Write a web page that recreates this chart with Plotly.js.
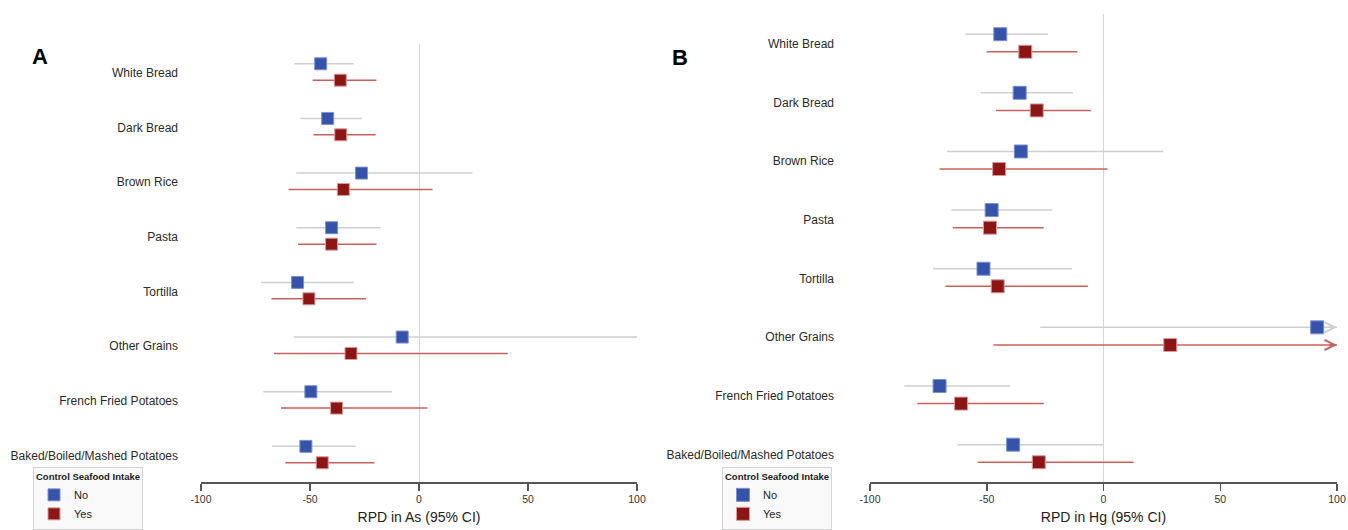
<!DOCTYPE html>
<html>
<head>
<meta charset="utf-8">
<script src="https://cdn.plot.ly/plotly-3.0.1.min.js"></script>
<style>
  html, body { margin: 0; padding: 0; background: #fff; }
  #chart { width: 1348px; height: 530px; }
</style>
</head>
<body>
<div id="chart"></div>
<script>
// ---- Data ----
const categories = ['White Bread', 'Dark Bread', 'Brown Rice', 'Pasta', 'Tortilla',
  'Other Grains', 'French Fried Potatoes', 'Baked/Boiled/Mashed Potatoes'];
const groups = ['No', 'Yes'];
const xTicks = [-100, -50, 0, 50, 100];

// Panel A: RPD in As
const asNoEst  = [-45.1, -41.9, -26.4, -40.1, -55.7, -7.7, -49.6, -51.9];
const asNoLo   = [-57.1, -54.4, -56.3, -56.3, -72.5, -57.5, -71.4, -67.5];
const asNoHi   = [-30.1, -26.2, 24.5, -17.6, -29.9, 100, -12.3, -29.1];
const asYesEst = [-36.1, -35.9, -34.7, -40.1, -50.5, -31.2, -37.8, -44.4];
const asYesLo  = [-48.8, -48.4, -59.8, -55.5, -67.7, -66.5, -63.3, -61.3];
const asYesHi  = [-19.5, -19.9, 6.2, -19.5, -24.3, 40.7, 3.9, -20.4];

// Panel B: RPD in Hg
const hgNoEst  = [-44.2, -35.9, -35.4, -47.9, -51.4, 91.5, -70.2, -38.7];
const hgNoLo   = [-59.1, -52.6, -67.0, -65.1, -73.0, -27.1, -85.3, -62.5];
const hgNoHi   = [-23.8, -13.1, 25.6, -21.9, -13.5, 100, -40.0, 0.0];
const hgYesEst = [-33.5, -28.6, -44.7, -48.6, -45.3, 28.6, -61.0, -27.7];
const hgYesLo  = [-50.0, -46.0, -70.2, -64.5, -67.7, -47.1, -79.7, -53.9];
const hgYesHi  = [-11.2, -5.4, 1.7, -25.6, -6.7, 100, -25.6, 12.9];

// ---- Styling / layout constants ----
const FONT = '"Liberation Sans", Arial, sans-serif';
const W = 1348, H = 530;
const blue = '#3553a8', red = '#8c1515';
const grayLine = '#cfcfcf', redLine = '#c8605c';
const offNo = -0.165, offYes = 0.135;
const XMAX = 100;

const traces = [];
const annotations = [];

function addPanel(ax, legendId, est, lo, hi, mSize, arrows) {
  const xa = ax === 1 ? 'x' : 'x' + ax;
  const ya = ax === 1 ? 'y' : 'y' + ax;
  const sets = [
    {name: groups[0], e: est[0], l: lo[0], h: hi[0], off: offNo, mc: blue, lc: grayLine, border: '#7d91cf'},
    {name: groups[1], e: est[1], l: lo[1], h: hi[1], off: offYes, mc: red, lc: redLine, border: '#d99a9a'}
  ];
  sets.forEach(s => {
    traces.push({
      type: 'scatter', mode: 'markers', name: s.name,
      x: s.e, y: categories.map((c, i) => i + s.off),
      xaxis: xa, yaxis: ya, legend: legendId,
      marker: {symbol: 'square', size: mSize, color: s.mc, line: {color: s.border, width: 1}},
      error_x: {
        type: 'data', symmetric: false,
        array: s.e.map((v, i) => s.h[i] - v),
        arrayminus: s.e.map((v, i) => v - s.l[i]),
        width: 0, thickness: 1.5, color: s.lc
      },
      hoverinfo: 'x+name'
    });
    if (arrows) {
      s.h.forEach((v, i) => {
        if (v >= XMAX) {
          annotations.push({
            xref: xa, yref: ya, axref: xa, ayref: ya,
            x: XMAX, y: i + s.off, ax: XMAX - 4, ay: i + s.off,
            text: '', showarrow: true, arrowhead: 5, arrowsize: 1.35,
            arrowwidth: 1.5, arrowcolor: s.lc, standoff: 0, startstandoff: 0
          });
        }
      });
    }
  });
}

addPanel(1, 'legend', [asNoEst, asYesEst], [asNoLo, asYesLo], [asNoHi, asYesHi], 12, false);
addPanel(2, 'legend2', [hgNoEst, hgYesEst], [hgNoLo, hgYesLo], [hgNoHi, hgYesHi], 13, true);

function xAxis(domain, title) {
  return {
    domain: domain, range: [-100, 100], tickvals: xTicks, ticktext: xTicks.map(String),
    showgrid: false, zeroline: true, zerolinecolor: '#d6d6d6', zerolinewidth: 1,
    showline: true, linecolor: '#555', linewidth: 1.5,
    ticks: 'outside', ticklen: 7, tickwidth: 1.5, tickcolor: '#555',
    tickfont: {family: FONT, size: 10.5, color: '#333'},
    title: {text: title, font: {family: FONT, size: 14, color: '#222'}, standoff: 8},
    automargin: false, fixedrange: true
  };
}
function yAxis(domain, range, anchor, standoff) {
  return {
    domain: domain, range: range, anchor: anchor,
    tickvals: categories.map((c, i) => i), ticktext: categories,
    showgrid: false, zeroline: false, showline: false, ticks: '',
    ticklabelstandoff: standoff,
    tickfont: {family: FONT, size: 12, color: '#2a2a2a'},
    automargin: false, fixedrange: true
  };
}

annotations.push(
  {xref: 'paper', yref: 'paper', x: 40 / W, y: 1 - 57 / H, xanchor: 'center', yanchor: 'middle',
   text: '<b>A</b>', showarrow: false,
   font: {family: FONT, size: 22, color: '#000'}},
  {xref: 'paper', yref: 'paper', x: 680 / W, y: 1 - 58 / H, xanchor: 'center', yanchor: 'middle',
   text: '<b>B</b>', showarrow: false,
   font: {family: FONT, size: 22, color: '#000'}}
);

function legendBox(xpx) {
  return {
    x: xpx / W, y: 1 - 469 / H, xanchor: 'left', yanchor: 'top',
    bgcolor: '#f8f9f8', bordercolor: '#d4d4d4', borderwidth: 1,
    title: {text: '<b>Control Seafood Intake</b>', font: {family: FONT, size: 9.5, color: '#222'}},
    font: {family: FONT, size: 11, color: '#222'},
    tracegroupgap: 0, itemwidth: 30
  };
}

const layout = {
  width: W, height: H,
  margin: {l: 0, r: 0, t: 0, b: 0},
  paper_bgcolor: '#fff', plot_bgcolor: '#fff',
  font: {family: FONT},
  xaxis: xAxis([201 / W, 637 / W], 'RPD in As (95% CI)'),
  yaxis: yAxis([1 - 484 / H, 1 - 44 / H], [7.49, -0.53], 'x', 22),
  xaxis2: xAxis([870 / W, 1337 / W], 'RPD in Hg (95% CI)'),
  yaxis2: yAxis([1 - 484 / H, 1 - 14 / H], [7.475, -0.51], 'x2', 35),
  legend: legendBox(33),
  legend2: legendBox(722),
  annotations: annotations,
  showlegend: true
};
layout.xaxis.anchor = 'y';
layout.xaxis2.anchor = 'y2';

Plotly.newPlot('chart', traces, layout, {displayModeBar: false, staticPlot: true});
</script>
</body>
</html>
